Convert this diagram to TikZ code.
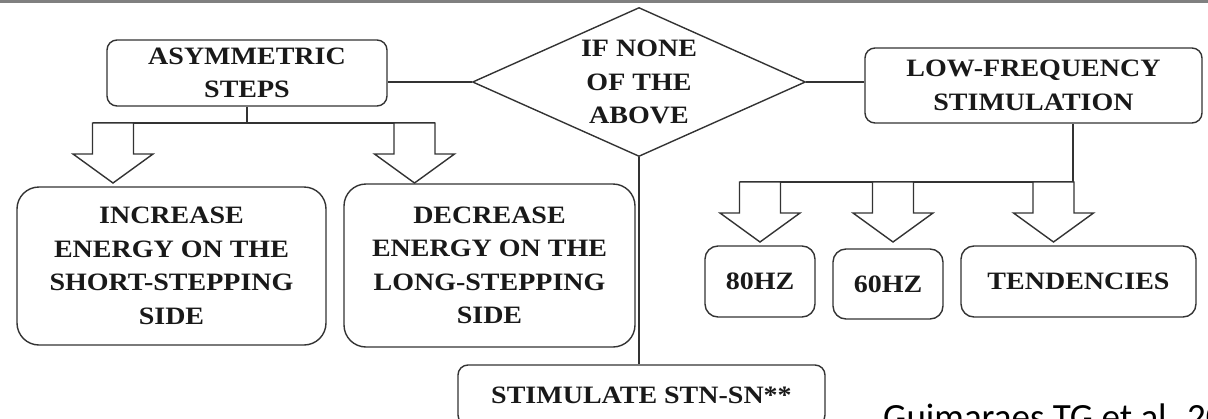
\documentclass[tikz,border=0pt]{standalone}
\usepackage{fontspec}
\setmainfont{Liberation Serif}[FakeStretch=1.12]
\newfontfamily\citefont{Carlito}
\usepackage{tikz}
\usetikzlibrary{positioning, shapes.geometric}

\begin{document}
\begin{tikzpicture}[x=1pt,y=-1pt]
	\tikzstyle{box}=[draw=black!80, line width=1.4pt, rounded corners=10pt, inner sep=0pt, align=center, text=black!90, font=\bfseries\fontsize{25}{33.5}\selectfont]
	\tikzstyle{link}=[draw=black!80, line width=1.4pt]
	\tikzset{hollow arrow/.pic={\draw[link, fill=white, line join=miter] (-20.5,0) -- (-20.5,31) -- (-40,31) -- (0,60) -- (40,31) -- (20.5,31) -- (20.5,0) -- cycle;}}
	\useasboundingbox (0,0) rectangle (1208,418);
	\clip (0,0) rectangle (1208,418);
	\draw[gray, line width=2.5pt] (0,1.5) -- (1208,1.5);
	% top row
	\node[box, minimum width=280pt, minimum height=66pt](asym) at (247,73){ASYMMETRIC\\STEPS};
	\node[box, diamond, sharp corners, aspect=2.23, minimum width=333pt, minimum height=149pt](none) at (639,82){IF NONE\\OF THE\\ABOVE};
	\node[box, minimum width=337pt, minimum height=75pt](lowfreq) at (1033.5,85.5){LOW-FREQUENCY\\STIMULATION};
	% left branch
	\node[box, rounded corners=22pt, minimum width=309pt, minimum height=158pt](incr) at (171.5,266){INCREASE\\ENERGY ON THE\\SHORT-STEPPING\\SIDE};
	\node[box, rounded corners=22pt, minimum width=291pt, minimum height=163pt](decr) at (489.5,265.5){DECREASE\\ENERGY ON THE\\LONG-STEPPING\\SIDE};
	% right branch
	\node[box, rounded corners=13pt, minimum width=110pt, minimum height=71pt](hz80) at (760,281.5){80HZ};
	\node[box, rounded corners=13pt, minimum width=110pt, minimum height=70pt](hz60) at (888,284){60HZ};
	\node[box, rounded corners=13pt, minimum width=235pt, minimum height=71pt](tend) at (1078.5,281.5){TENDENCIES};
	\node[box, minimum width=367pt, minimum height=60pt](stim) at (641.5,395){STIMULATE STN-SN**};
	\node[anchor=base west, inner sep=0pt, font=\citefont\fontsize{37}{40}\selectfont](cite) at (883,429){Guimaraes TG et al. 20};
	\path[link]
		(none.west) edge (none.west -| asym.east)
		(none.east) edge (none.east -| lowfreq.west)
		(none.south) edge (none.south |- stim.north);
	\coordinate (lbusL) at (92.5,123);
	\coordinate (lbusR) at (435,123);
	\path[link]
		(asym.south) edge (asym.south |- lbusL)
		(lbusL) edge (lbusR);
	\pic at (113,123) {hollow arrow};
	\pic at (414.5,123) {hollow arrow};
	\coordinate (rbusL) at (739.5,182);
	\coordinate (rbusR) at (1073,182);
	\path[link]
		(rbusR |- lowfreq.south) edge (rbusR)
		(rbusL) edge (rbusR);
	\pic at (760,182) {hollow arrow};
	\pic at (893,182) {hollow arrow};
	\pic at (1053.5,182) {hollow arrow};
\end{tikzpicture}
\end{document}
